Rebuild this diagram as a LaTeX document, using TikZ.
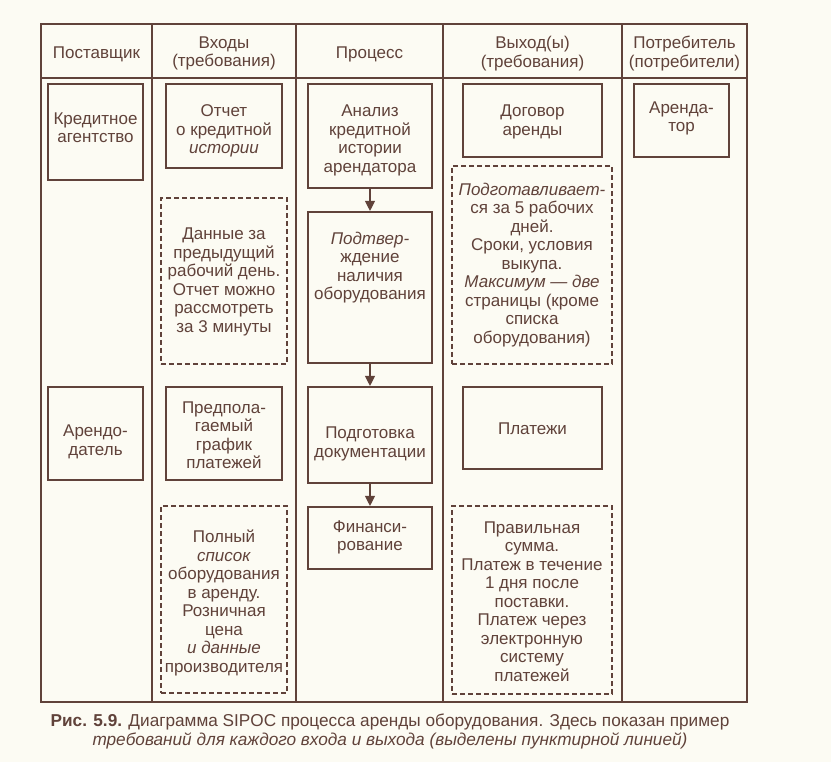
\documentclass[tikz,border=0pt]{standalone}
\usepackage{fontspec}
\setmainfont{Liberation Sans}
\usetikzlibrary{arrows.meta}
\definecolor{ink}{RGB}{96,66,58}
\definecolor{paper}{RGB}{252,251,243}
\tikzset{
  box/.style={draw=ink, line width=1.1pt, inner sep=0pt, rectangle},
  dbox/.style={box, dash pattern=on 5pt off 3pt},
  txt/.style={text=ink, align=center, inner sep=0pt, font=\fontsize{17}{18.5}\selectfont},
  rule/.style={draw=ink, line width=1.1pt},
  arr/.style={draw=ink, line width=1.1pt, -{Triangle[width=10pt,length=10pt]}, shorten >=0.5pt}
}
\begin{document}
\begin{tikzpicture}[x=1pt,y=-1pt]
\fill[paper] (0,0) rectangle (831,762);
% table frame
\draw[rule] (41,24) rectangle (747,702);
\draw[rule] (41,78) -- (747,78);
\foreach \xx in {152,296,443,622} \draw[rule] (\xx,24) -- (\xx,702);
% headers
\node[txt] (h1) at (96.5,54) {Поставщик};
\node[txt] (h2) at (224,53.5) {Входы\\(требования)};
\node[txt] (h3) at (369.5,54) {Процесс};
\node[txt] (h4) at (532.5,53.5) {Выход(ы)\\(требования)};
\node[txt] (h5) at (684.5,53.5) {Потребитель\\(потребители)};
% boxes
\node[box, minimum width=95pt, minimum height=96pt] (sup1) at (95.5,132) {};
\node[txt] (sup1t) at (95.5,127.5) {Кредитное\\агентство};
\node[box, minimum width=116pt, minimum height=84pt] (in1) at (224,126) {};
\node[txt] (in1t) at (224,131) {Отчет\\о кредитной\\\textit{истории}};
\node[box, minimum width=124pt, minimum height=104pt] (p1) at (370,136) {};
\node[txt] (p1t) at (370,140.5) {Анализ\\кредитной\\истории\\арендатора};
\node[box, minimum width=139pt, minimum height=73pt] (out1) at (532.5,120.5) {};
\node[txt] (out1t) at (532.5,122) {Договор\\аренды};
\node[box, minimum width=95pt, minimum height=73pt] (cus1) at (681.5,120.5) {};
\node[txt] (cus1t) at (681.5,118.5) {Аренда-\\тор};
\node[dbox, minimum width=126pt, minimum height=166pt] (inreq1) at (224,281) {};
\node[txt] (inreq1t) at (224,282) {Данные за\\предыдущий\\рабочий день.\\Отчет можно\\рассмотреть\\за 3 минуты};
\node[dbox, minimum width=160pt, minimum height=198pt] (outreq1) at (532,265) {};
\node[txt] (outreq1t) at (532,265) {\textit{Подготавливает-}\\ся за 5 рабочих\\дней.\\Сроки, условия\\выкупа.\\\textit{Максимум — две}\\страницы (кроме\\списка\\оборудования)};
\node[box, minimum width=124pt, minimum height=151pt] (p2) at (370,287.5) {};
\node[txt] (p2t) at (370,267.5) {\textit{Подтвер-}\\ждение\\наличия\\оборудования};
\node[box, minimum width=95pt, minimum height=93pt] (sup2) at (95.5,433.5) {};
\node[txt] (sup2t) at (95.5,442) {Арендо-\\датель};
\node[box, minimum width=116pt, minimum height=93pt] (in2) at (224,433.5) {};
\node[txt] (in2t) at (224,435) {Предпола-\\гаемый\\график\\платежей};
\node[box, minimum width=124pt, minimum height=96pt] (p3) at (370,435) {};
\node[txt] (p3t) at (370,444) {Подготовка\\документации};
\node[box, minimum width=139pt, minimum height=82pt] (out2) at (532.5,428) {};
\node[txt] (out2t) at (532.5,429) {Платежи};
\node[dbox, minimum width=126pt, minimum height=187pt] (inreq2) at (224,599.5) {};
\node[txt] (inreq2t) at (224,603) {Полный\\\textit{список}\\оборудования\\в аренду.\\Розничная\\цена\\\textit{и данные}\\производителя};
\node[box, minimum width=124pt, minimum height=62pt] (p4) at (370,538) {};
\node[txt] (p4t) at (370,537.5) {Финанси-\\рование};
\node[dbox, minimum width=160pt, minimum height=188pt] (outreq2) at (532,600) {};
\node[txt] (outreq2t) at (532,601.5) {Правильная\\сумма.\\Платеж в течение\\1 дня после\\поставки.\\Платеж через\\электронную\\систему\\платежей};
% arrows
\draw[arr] (p1) -- (p2);
\draw[arr] (p2) -- (p3);
\draw[arr] (p3) -- (p4);
% caption
\node[txt, font=\fontsize{17.2}{19}\selectfont] (cap) at (390,731.5) {\textbf{Рис. 5.9.} Диаграмма SIPOC процесса аренды оборудования. Здесь показан пример\\\textit{требований для каждого входа и выхода (выделены пунктирной линией)}};
\end{tikzpicture}
\end{document}
